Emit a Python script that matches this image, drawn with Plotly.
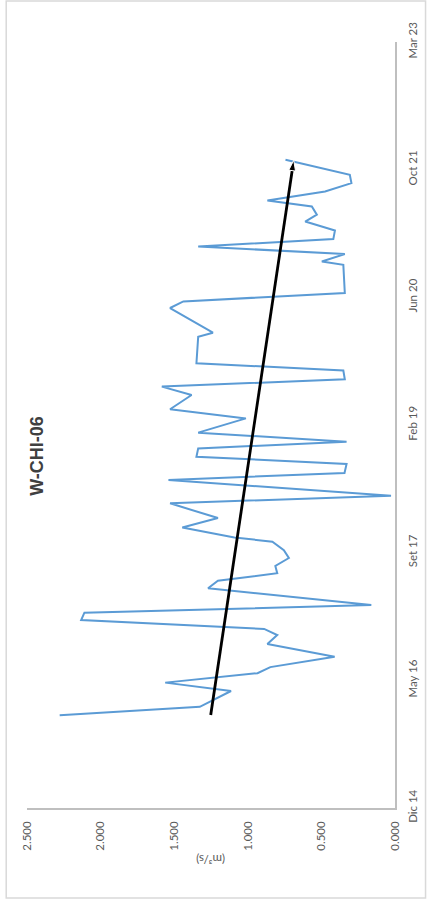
import plotly.graph_objects as go

# ---- data ----
dates = [
    "2015-12-01", "2016-01-03", "2016-03-05", "2016-04-07", "2016-05-14", "2016-06-07",
    "2016-07-18", "2016-09-06", "2016-10-11", "2016-11-04", "2016-12-09", "2017-01-07",
    "2017-02-06", "2017-04-13", "2017-05-13", "2017-06-11", "2017-07-10", "2017-08-10",
    "2017-09-10", "2017-10-13", "2017-10-30", "2017-12-08", "2018-01-14", "2018-03-13",
    "2018-04-12", "2018-06-13", "2018-07-10", "2018-08-15", "2018-09-12", "2018-10-15",
    "2018-11-10", "2018-12-16", "2019-02-10", "2019-03-18", "2019-05-13", "2019-06-15",
    "2019-07-14", "2019-08-17", "2019-09-15", "2019-12-28", "2020-01-13", "2020-04-19",
    "2020-05-15", "2020-06-17", "2020-10-06", "2020-10-19", "2020-11-17", "2020-12-17",
    "2021-01-15", "2021-02-18", "2021-03-25", "2021-04-21", "2021-05-23", "2021-06-16",
    "2021-07-21", "2021-08-23", "2021-09-25", "2021-11-23",
]
flow = [
    2.278, 1.326, 1.114, 1.561, 0.934, 0.847,
    0.410, 0.867, 0.800, 0.889, 2.132, 2.110,
    0.161, 1.270, 1.203, 0.800, 0.813, 0.721,
    0.755, 0.833, 1.091, 1.445, 1.203, 1.528,
    0.027, 1.539, 0.343, 0.329, 1.349, 1.337,
    0.329, 1.337, 1.013, 1.528, 1.382, 1.584,
    0.341, 0.351, 1.349, 1.337, 1.237, 1.528,
    1.438, 0.341, 0.351, 0.497, 0.341, 1.337,
    0.419, 0.408, 0.610, 0.531, 0.565, 0.867,
    0.475, 0.296, 0.307, 0.744,
]

trend_dates = ["2015-12-02", "2021-11-21"]
trend_flow = [1.252, 0.688]

date_tickvals = ["2014-12-01", "2016-04-16", "2017-08-31", "2019-01-15",
                 "2020-05-31", "2021-10-15", "2023-03-01"]
date_ticktext = ["Dic 14", "May 16", "Set 17", "Feb 19", "Jun 20", "Oct 21", "Mar 23"]
flow_tickvals = [0.0, 0.5, 1.0, 1.5, 2.0, 2.5]

title_text = "W-CHI-06"
axis_title = "(m³/s)"

# ---- figure ----
fig = go.Figure()
fig.add_trace(go.Scatter(
    x=flow, y=dates, mode="lines",
    line=dict(color="#5B9BD5", width=2),
    hoverinfo="skip", showlegend=False,
))
fig.add_trace(go.Scatter(
    x=trend_flow, y=trend_dates, mode="lines+markers",
    line=dict(color="#000000", width=2.8),
    marker=dict(symbol=["circle", "arrow"], size=[1, 11], opacity=[0, 1],
                color="#000000", angleref="previous"),
    hoverinfo="skip", showlegend=False,
))

tick_font = dict(family="Lato, Liberation Sans, sans-serif", size=11.5, color="#595959")

fig.update_layout(
    width=431, height=906,
    margin=dict(l=27, r=32, t=42, b=98),
    paper_bgcolor="white", plot_bgcolor="white",
    xaxis=dict(
        range=[2.5, 0], tickvals=flow_tickvals, tickformat=".3f",
        tickangle=-90, tickfont=tick_font, ticklabelstandoff=7,
        showgrid=False, zeroline=False,
        showline=True, linecolor="#bfbfbf", linewidth=1.5,
        ticks="", ticklen=0,
    ),
    yaxis=dict(
        type="date", side="right",
        range=[date_tickvals[0], date_tickvals[-1]],
        tickvals=date_tickvals, ticktext=date_ticktext,
        tickangle=-90, tickfont=tick_font, ticklabelstandoff=6,
        showgrid=False, zeroline=False,
        showline=True, linecolor="#bfbfbf", linewidth=1.5,
        ticks="", ticklen=0,
    ),
    shapes=[dict(
        type="rect", xref="paper", yref="paper",
        x0=-0.0565, x1=1.083, y0=-0.1175, y1=1.0535,
        line=dict(color="#d9d9d9", width=1.5), layer="below",
    )],
    annotations=[
        dict(
            text=f"<b>{title_text}</b>", xref="paper", yref="paper",
            x=-0.0565, y=0.46, xanchor="left", yanchor="middle", xshift=18,
            textangle=-90, showarrow=False,
            font=dict(family="Liberation Sans, Arial, sans-serif", size=18, color="#404040"),
        ),
        dict(
            text=axis_title, xref="x domain", yref="y domain",
            x=0.5, y=0, yshift=-60, showarrow=False, textangle=180,
            font=tick_font,
        ),
    ],
)

fig.write_html(
    "out.html",
    config={"displayModeBar": False},
    post_script="document.body.style.margin='0';document.body.style.overflow='hidden';",
)
